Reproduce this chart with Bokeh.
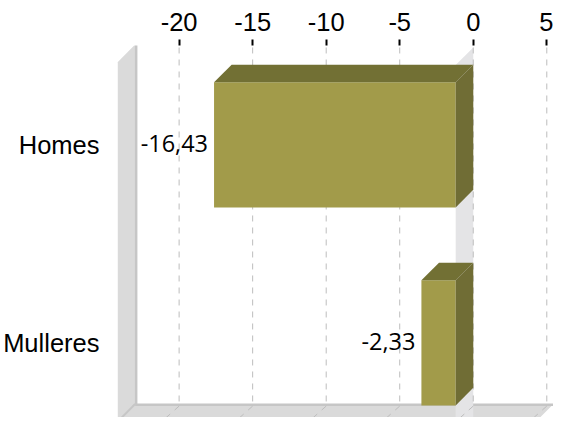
from bokeh.plotting import figure
from bokeh.models import Range1d, FixedTicker, ColumnDataSource
from bokeh.embed import file_html
from bokeh.resources import INLINE
from bokeh.core.properties import value

# ---- data ----
categories = ["Homes", "Mulleres"]
values = [-16.43, -2.33]
ticks = [-20, -15, -10, -5, 0, 5]

# ---- 3D geometry (in data units) ----
DX = 1.195      # depth in value units
DY = 0.0891     # depth in category units
HALF = 0.316    # half bar thickness (category units)
WALL_X = -22.99 # back plane left
RIGHT_X = 5.45  # back plane right
TOP_Y = -0.507  # back plane top
FLOOR_Y = 1.309 # back plane bottom

p = figure(width=553, height=417, output_backend="svg", toolbar_location=None,
           x_range=Range1d(-24.19, 5.456), y_range=Range1d(1.3768, -0.502),
           x_axis_location="above", y_axis_location="left",
           min_border_left=114, min_border_top=45, min_border_right=0, min_border_bottom=0)
p.outline_line_color = None
p.xgrid.visible = False
p.ygrid.visible = False
p.background_fill_color = "white"
p.border_fill_color = "white"

xa = p.xaxis[0]
xa.ticker = FixedTicker(ticks=ticks)
xa.major_label_overrides = {t: str(t) for t in ticks}
xa.axis_line_color = None
xa.major_tick_out = 6
xa.major_tick_in = 0
xa.major_tick_line_color = "black"
xa.major_tick_line_width = 2
xa.minor_tick_line_color = None
xa.major_label_text_font = "Liberation Sans"
xa.major_label_text_font_size = "25.5px"
xa.major_label_text_color = "black"
xa.major_label_standoff = 9

ya = p.yaxis[0]
ya.ticker = FixedTicker(ticks=list(range(len(categories))))
ya.major_label_overrides = {i: c for i, c in enumerate(categories)}
ya.axis_line_color = None
ya.major_tick_line_color = None
ya.minor_tick_line_color = None
ya.major_label_text_font = "Liberation Sans"
ya.major_label_text_font_size = "25.5px"
ya.major_label_text_color = "black"
ya.major_label_standoff = 12

# ---- walls ----
# left wall
p.patch([WALL_X, WALL_X, WALL_X - DX, WALL_X - DX],
        [TOP_Y, FLOOR_Y, FLOOR_Y + DY, TOP_Y + DY],
        fill_color="#dadada", line_color=None)
p.segment(x0=[WALL_X + 0.07], y0=[TOP_Y], x1=[WALL_X + 0.07], y1=[FLOOR_Y],
          line_color="#c6c6c6", line_width=2.5)
# floor
p.patch([WALL_X, RIGHT_X, RIGHT_X - DX, WALL_X - DX],
        [FLOOR_Y, FLOOR_Y, FLOOR_Y + DY, FLOOR_Y + DY],
        fill_color="#dadada", line_color=None)
p.segment(x0=[WALL_X], y0=[FLOOR_Y + 0.004], x1=[RIGHT_X], y1=[FLOOR_Y + 0.004],
          line_color="#c6c6c6", line_width=2.5)
p.segment(x0=[WALL_X], y0=[FLOOR_Y], x1=[WALL_X - DX], y1=[FLOOR_Y + DY],
          line_color="#c6c6c6", line_width=2)

# zero-plane band
p.patch([0, 0, -DX, -DX],
        [TOP_Y + 0.015, FLOOR_Y + DY, FLOOR_Y + DY, TOP_Y + 0.015 + DY],
        fill_color="#e4e4e6", line_color=None)

# ---- gridlines ----
gx = [t for t in ticks]
p.segment(x0=gx, y0=[TOP_Y + 0.015] * len(gx), x1=gx, y1=[FLOOR_Y] * len(gx),
          line_color="#bdbdbd", line_width=1, line_dash="6 6")
p.segment(x0=gx, y0=[FLOOR_Y + 0.01] * len(gx), x1=[t - DX for t in gx], y1=[FLOOR_Y + DY] * len(gx),
          line_color="#bdbdbd", line_width=1, line_dash="6 6")

# ---- bars ----
ypos = list(range(len(categories)))
src = ColumnDataSource(dict(
    left=[v - DX for v in values], right=[-DX] * len(values),
    top=[y - HALF for y in ypos], bottom=[y + HALF for y in ypos]))
p.quad(left="left", right="right", top="top", bottom="bottom", source=src,
       fill_color="#a29b4a", line_color=None)

top_xs, top_ys, side_xs, side_ys = [], [], [], []
for v, y in zip(values, ypos):
    top_xs.append([v - DX, v, 0, -DX])
    top_ys.append([y - HALF, y - HALF - DY, y - HALF - DY, y - HALF])
    side_xs.append([-DX, 0, 0, -DX])
    side_ys.append([y - HALF, y - HALF - DY, y + HALF - DY, y + HALF])
p.patches(top_xs, top_ys, fill_color="#727034", line_color=None)
p.patches(side_xs, side_ys, fill_color="#706d35", line_color=None)

# ---- data labels ----
labels = [f"{v:.2f}".replace(".", ",") for v in values]
p.text(x=[v - DX for v in values], y=ypos, text=labels,
       text_font=value("Open Sans"), text_font_size="23.5px", text_color="black",
       text_align="right", text_baseline="middle", x_offset=-6, y_offset=-1)

open("out.html", "w").write(file_html(p, INLINE))
